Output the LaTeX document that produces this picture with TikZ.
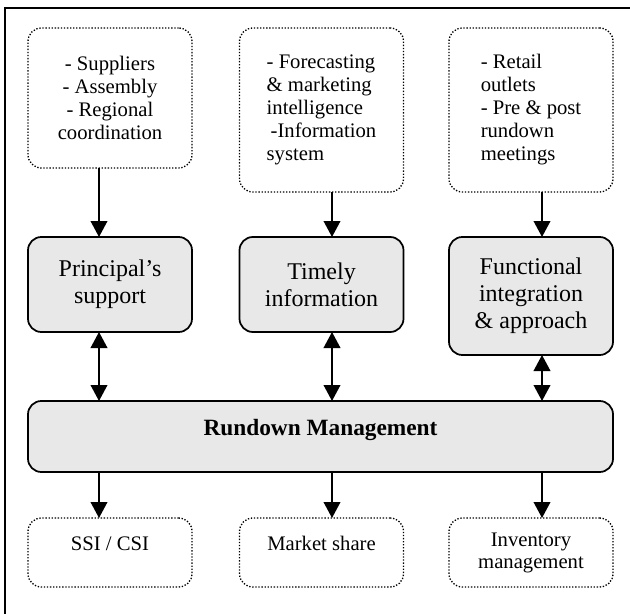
\documentclass[tikz,border=0pt]{standalone}
\usepackage{fontspec}
\setmainfont{Liberation Serif}
\usetikzlibrary{arrows.meta}
\definecolor{BoxGray}{HTML}{E8E8E8}

\begin{document}
\begin{tikzpicture}[x=.75pt,y=-.75pt,
  dotbox/.style={draw,line width=1pt,dash pattern=on 1pt off 1.3pt,rounded corners=10pt,
    minimum width=123pt,outer sep=0pt,align=center,font=\fontsize{15.5}{17.25}\selectfont},
  keybox/.style={draw,line width=1.3pt,fill=BoxGray,rounded corners=10pt,minimum width=123pt,
    minimum height=71.25pt,outer sep=0pt,align=center,font=\fontsize{18}{20.25}\selectfont},
  arr/.style={line width=1.3pt,-{Triangle[length=12pt,width=12.5pt]}},
  darr/.style={line width=1.3pt,{Triangle[length=12pt,width=12.5pt]}-{Triangle[length=12pt,width=12.5pt]}}]
\clip (0,0) rectangle (630,613);
\draw[line width=1.5pt] (5,8) rectangle (660,660);

% inputs
\node[dotbox,minimum height=105pt] (src) at (110,98)
  {- Suppliers\\- Assembly\\- Regional\\coordination};
\node[dotbox,minimum height=123pt,align=left] (info) at (321.5,110)
  {- Forecasting\\\& marketing\\intelligence\\\hspace*{3pt}-Information\\system};
\node[dotbox,minimum height=123pt,align=left] (retail) at (531,110)
  {- Retail\\outlets\\- Pre \& post\\rundown\\meetings};

% key factors
\node[keybox] (prin) at (110,284.5) {Principal's\\support};
\node[keybox] (timely) at (321.5,284.5) {Timely\\information};
\node[keybox,minimum height=88.5pt] (func) at (531,296) {Functional\\integration\\\& approach};

\node[keybox,minimum width=438.75pt,minimum height=53.25pt,text height=12pt,text depth=13pt,
  font=\fontsize{17.5}{20}\selectfont\bfseries] (rundown) at (320.5,436.5) {Rundown Management};

% outcomes
\node[dotbox,minimum height=51.75pt,text height=10.5pt,text depth=14pt] (ssi) at (110,552.5) {SSI / CSI};
\node[dotbox,minimum height=51.75pt,text height=10.5pt,text depth=14pt] (share) at (321.5,552.5) {Market share};
\node[dotbox,minimum height=51.75pt,font=\fontsize{15.5}{16.5}\selectfont] (inv) at (531,552.5) {Inventory\\management};

\coordinate (c1) at (99,0);
\coordinate (c2) at (332,0);
\coordinate (c3) at (542,0);

\foreach \a/\b/\c in {src/prin/c1,info/timely/c2,retail/func/c3} {
  \draw[arr] (\a.south -| \c) -- (\b.north -| \c);
  \draw[darr] (\b.south -| \c) -- (rundown.north -| \c);
}
\foreach \b/\c in {ssi/c1,share/c2,inv/c3}
  \draw[arr] (rundown.south -| \c) -- (\b.north -| \c);
\end{tikzpicture}
\end{document}
